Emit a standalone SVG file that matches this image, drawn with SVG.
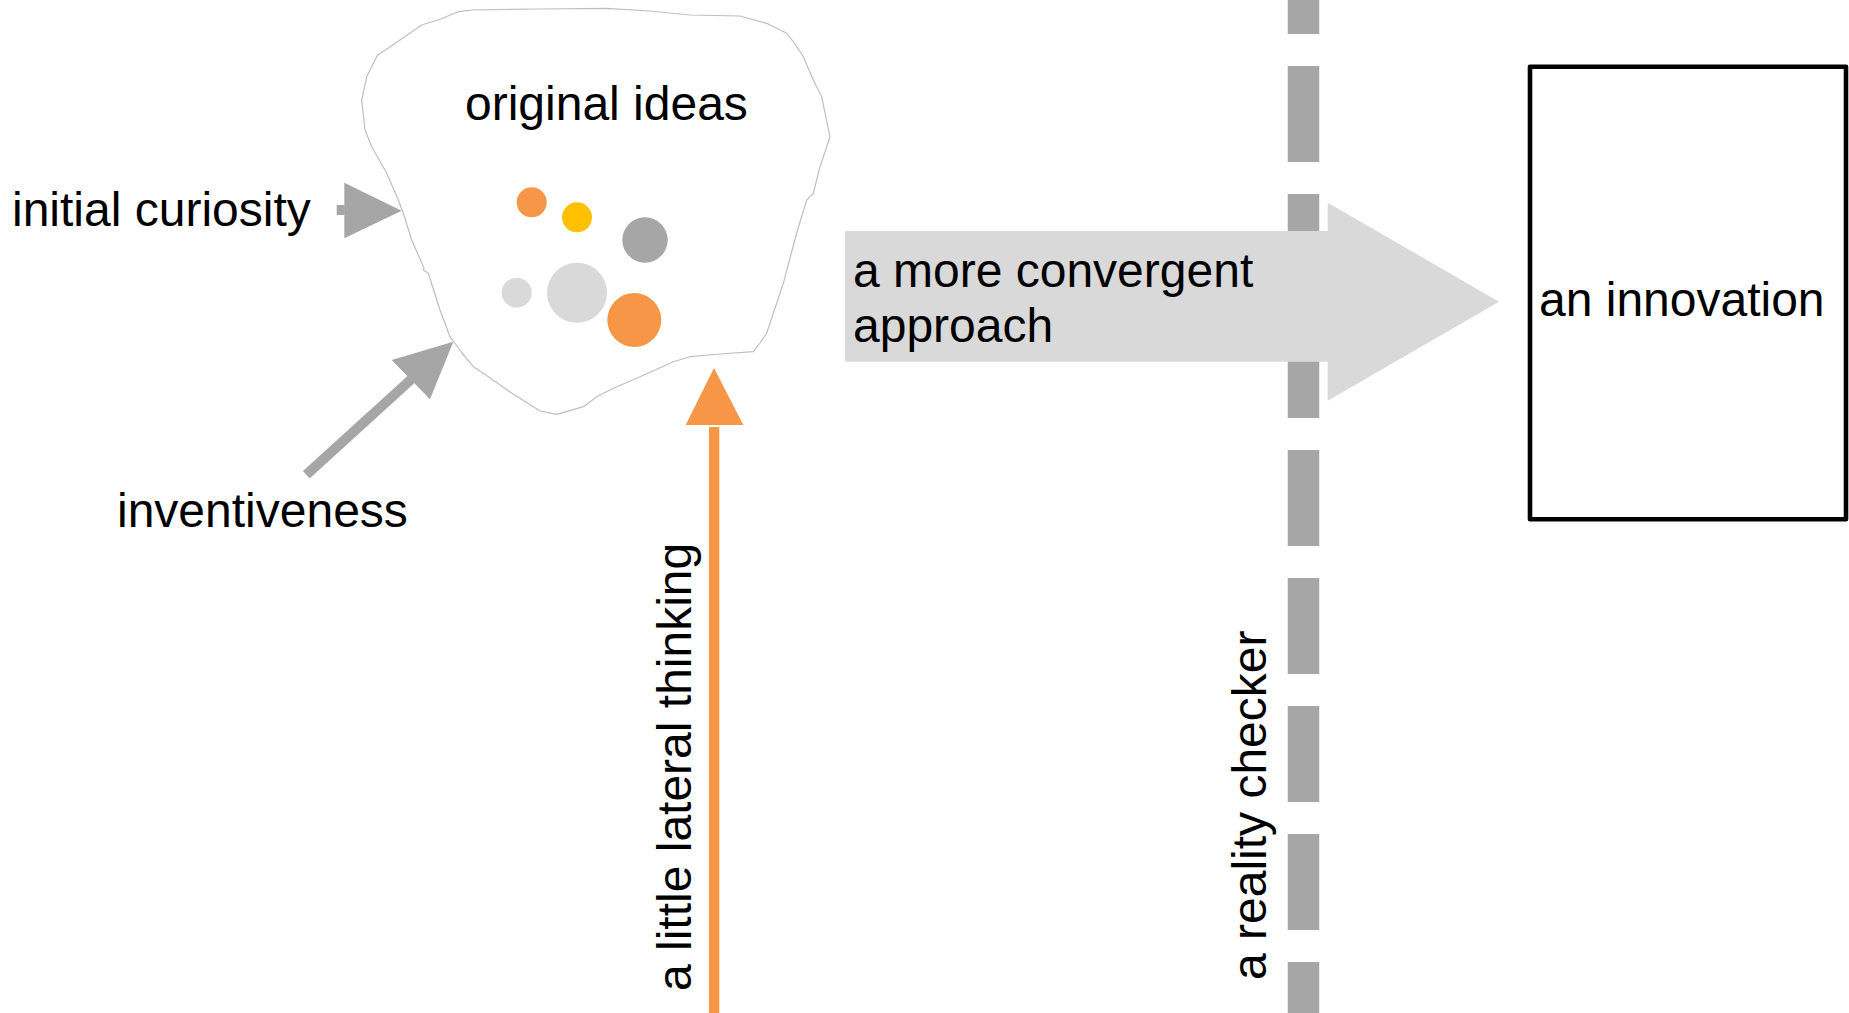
<svg xmlns="http://www.w3.org/2000/svg" width="1849" height="1013" viewBox="0 0 1849 1013">
  <style>
    .lbl { font-family: "Liberation Sans", Arial, sans-serif; font-size: 48px; fill: #000000; }
    .grey { fill: #a6a6a6; }
    .orange { fill: #f79646; }
  </style>
  <rect x="0" y="0" width="1849" height="1013" fill="#ffffff"/>

  <!-- reality check line (dashed) -->
  <g id="reality-checker">
    <line x1="1303.5" y1="-62" x2="1303.5" y2="1013" stroke="#a6a6a6" stroke-width="31.5" stroke-dasharray="96 32"/>
    <text class="lbl" transform="translate(1266,980) rotate(-90)">a reality checker</text>
  </g>

  <!-- cloud of original ideas -->
  <g id="original-ideas">
    <path d="M378,55 L400,40 L421.7,25 L440,19.3 L458.3,11.7 L471.7,10 L540,9 L606.7,8.3 L650,11 L690,15 L740,16 L766.7,23.3 L786.7,33.3 L795,44 L803.3,56.7 L813.3,80 L821.7,96.7 L826,118 L830,136.7 L825,152 L820,166.7 L813.3,193.3 L806.7,200 L800,222 L796.7,233 L790,258 L783.3,283.3 L773.3,313.3 L766.7,333 L760,343 L753.3,351.7 L720,354 L690,356.7 L673.3,361.7 L640,376.7 L613.3,388.3 L598,396 L583.3,406.7 L556.7,414.3 L540,411 L510,392 L483.3,373.3 L473.3,366.7 L462,353 L450,336.7 L440,310 L428.3,273.3 L423.3,270 L424,268 L411.7,240 L403.3,213.3 L398.3,200 L386.7,173.3 L371.7,146.7 L365,130 L361.7,100 L366.7,76.7 L376.7,56.7 Z" fill="#ffffff" stroke="#bfbfbf" stroke-width="1.2" stroke-linejoin="round"/>
    <text class="lbl" x="465" y="120">original ideas</text>
    <circle cx="531.7" cy="202.3" r="15" fill="#f79646"/>
    <circle cx="577" cy="217.3" r="15" fill="#ffc000"/>
    <circle cx="645" cy="240" r="22.7" fill="#a6a6a6"/>
    <circle cx="516.7" cy="292.7" r="15" fill="#d9d9d9"/>
    <circle cx="577" cy="292.7" r="30" fill="#d9d9d9"/>
    <circle cx="634.3" cy="320" r="27" fill="#f79646"/>
  </g>

  <!-- labels feeding the cloud -->
  <g id="initial-curiosity">
    <text class="lbl" x="12" y="225.7">initial curiosity</text>
  </g>
  <g id="inventiveness">
    <text class="lbl" x="117" y="526.7">inventiveness</text>
  </g>
  <g id="lateral-thinking">
    <text class="lbl" transform="translate(691,991) rotate(-90)">a little lateral thinking</text>
  </g>

  <!-- result box -->
  <g id="innovation">
    <rect x="1530" y="66.7" width="316" height="452.5" fill="#ffffff" stroke="#000000" stroke-width="4.6" stroke-linejoin="round"/>
    <text class="lbl" x="1539" y="316">an innovation</text>
  </g>

  <!-- connectors -->
  <g id="connectors">
    <!-- initial curiosity -> cloud -->
    <rect class="grey" x="336.7" y="205" width="8" height="10"/>
    <polygon class="grey" points="344.3,182.7 401.7,210.7 344.3,238.3"/>
    <!-- inventiveness -> cloud -->
    <line x1="306.3" y1="474.7" x2="412" y2="378.6" stroke="#a6a6a6" stroke-width="10"/>
    <polygon class="grey" points="391.7,360 453.3,341.7 430,399.3"/>
    <!-- lateral thinking -> cloud -->
    <rect class="orange" x="709" y="427" width="10.3" height="590"/>
    <polygon class="orange" points="714,368 743.3,425 685.7,425"/>
    <!-- convergent approach: cloud -> innovation -->
    <g id="convergent-approach">
      <polygon points="845,231 1327.7,231 1327.7,202.7 1499,301.7 1327.7,400.7 1327.7,361.7 845,361.7" fill="#d9d9d9"/>
      <text class="lbl" x="853" y="286.7">a more convergent</text>
      <text class="lbl" x="853" y="341.7">approach</text>
    </g>
  </g>
</svg>
